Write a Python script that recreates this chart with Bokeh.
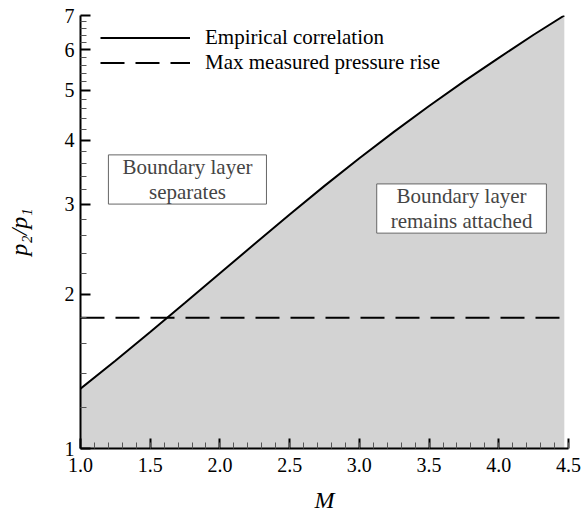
from bokeh.plotting import figure
from bokeh.models import (Range1d, FixedTicker, PrintfTickFormatter, CustomJSTickFormatter,
                          Label, Legend, LegendItem)
from bokeh.embed import file_html
from bokeh.resources import INLINE

# Data
mach = [1.0, 1.25, 1.5, 1.75, 2.0, 2.25, 2.5, 2.75, 3.0, 3.25, 3.5, 3.75, 4.0, 4.25, 4.47]
pressure_ratio = [1.308, 1.484, 1.688, 1.925, 2.198, 2.509, 2.861, 3.255, 3.686, 4.154,
                  4.661, 5.206, 5.788, 6.42, 7.0]
max_mach = [1.0, 4.5]
max_ratio = [1.8, 1.8]

y_major = [1, 2, 3, 4, 5, 6, 7]
y_minor = [round(v + 0.2 * k, 1) for v in range(1, 7) for k in range(1, 5)]
x_major = [1.0, 1.5, 2.0, 2.5, 3.0, 3.5, 4.0, 4.5]
x_minor = [round(1.0 + 0.1 * k, 1) for k in range(0, 36)]

FONT = "Liberation Serif"

p = figure(width=584, height=515, y_axis_type="log",
           x_range=Range1d(1.0, 4.5), y_range=Range1d(1, 7),
           output_backend="svg", toolbar_location=None,
           min_border_left=80, min_border_top=15, min_border_right=16, min_border_bottom=67)
p.frame_width = 488
p.frame_height = 433
p.outline_line_color = None
p.xgrid.visible = False
p.ygrid.visible = False

p.varea(x=mach, y1=1, y2=pressure_ratio, fill_color="#d3d3d3")
r1 = p.line(mach, pressure_ratio, line_color="black", line_width=2)
r2 = p.line(max_mach, max_ratio, line_color="black", line_width=2, line_dash="24 11")

legend = Legend(items=[LegendItem(label="Empirical correlation", renderers=[r1]),
                       LegendItem(label="Max measured pressure rise", renderers=[r2])],
                location=(20, 373))
legend.background_fill_alpha = 0
legend.border_line_alpha = 0
legend.label_text_font = FONT
legend.label_text_font_size = "21px"
legend.label_text_color = "black"
legend.glyph_width = 90
legend.glyph_height = 23
legend.label_height = 23
legend.spacing = 0
legend.label_standoff = 15
legend.margin = 0
legend.padding = 0
p.add_layout(legend)

for ax in (p.xaxis[0], p.yaxis[0]):
    ax.axis_line_width = 2
    ax.major_tick_line_width = 2
    ax.major_tick_in = 10
    ax.major_tick_out = 0
    ax.minor_tick_in = 6
    ax.minor_tick_out = 0
    ax.minor_tick_line_color = "#555555"
    ax.major_label_text_font = FONT
    ax.major_label_text_font_size = "20px"
    ax.major_label_text_color = "black"
    ax.axis_label_text_font = FONT
    ax.axis_label_text_font_style = "italic"
    ax.axis_label_text_font_size = "24px"
    ax.axis_label_text_color = "black"

p.xaxis.ticker = FixedTicker(ticks=x_major, minor_ticks=x_minor)
p.xaxis.formatter = PrintfTickFormatter(format="%.1f")
p.xaxis.major_label_standoff = 9
p.xaxis.axis_label = "M"
p.xaxis.axis_label_standoff = 12

p.yaxis.ticker = FixedTicker(ticks=y_major, minor_ticks=y_minor)
p.yaxis.formatter = CustomJSTickFormatter(code="return tick.toFixed(0)")
p.yaxis.major_label_standoff = 6
p.yaxis.axis_label = "p\u2082/p\u2081"
p.yaxis.axis_label_standoff = 30

box_style = dict(text_font=FONT, text_font_size="21px", text_align="center",
                 text_baseline="middle", text_line_height=1.05, background_fill_color="white",
                 border_line_color="#666666", border_line_width=1, padding=(14, 0))
p.add_layout(Label(x=1.767, y=3.35, text="Boundary layer\nseparates", **box_style))
p.add_layout(Label(x=3.733, y=2.94, text="Boundary layer\nremains attached", **box_style))

open("out.html", "w").write(file_html(p, INLINE))
